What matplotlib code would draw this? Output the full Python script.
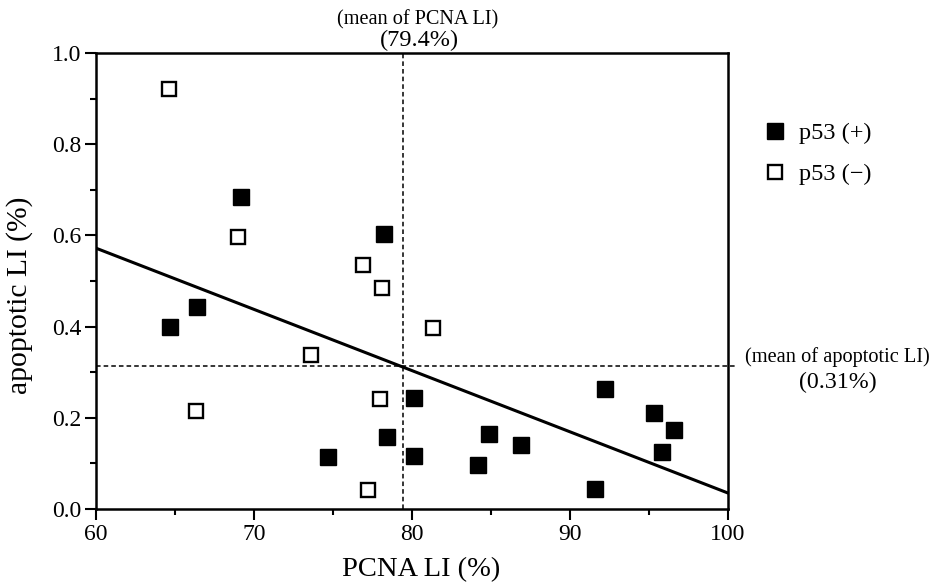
import numpy as np
import matplotlib
matplotlib.use("Agg")
import matplotlib.pyplot as plt
from matplotlib.ticker import MultipleLocator

plt.rcParams['font.family'] = ['Liberation Serif', 'DejaVu Serif']

# =====================================================
# data
# =====================================================
pos_x = [69.2, 78.2, 66.4, 64.7, 80.1, 78.4, 74.7, 80.1, 84.9, 84.2, 86.9, 92.2, 95.3, 96.6, 95.8, 91.6]
pos_y = [0.684, 0.603, 0.443, 0.399, 0.243, 0.158, 0.114, 0.116, 0.164, 0.096, 0.140, 0.263, 0.210, 0.173, 0.125, 0.044]

neg_x = [64.6, 69.0, 76.9, 78.1, 81.3, 73.6, 66.3, 78.0, 77.2]
neg_y = [0.921, 0.596, 0.535, 0.485, 0.397, 0.338, 0.215, 0.241, 0.042]

fit_x = [60, 100]
fit_y = [0.572, 0.035]

mean_pcna = 79.4
mean_apop = 0.314

# =====================================================
# plot
# =====================================================
W, H = 935, 586
fig = plt.figure(figsize=(W / 100, H / 100), dpi=100)
ax = fig.add_axes([96 / W, 1 - 509 / H, 632 / W, 456 / H])

ax.plot(fit_x, fit_y, color="black", lw=2.2, zorder=2)
ax.axvline(mean_pcna, color="black", lw=1.1, ls=(0, (3, 2)), zorder=1)
ax.plot([60, 100.5], [mean_apop, mean_apop], color="black", lw=1.1,
        ls=(0, (3, 2)), clip_on=False, zorder=1)

ax.plot(pos_x, pos_y, "s", color="black", ms=11, ls="none",
        label="p53 (+)", zorder=3)
ax.plot(neg_x, neg_y, "s", mfc="white", mec="black", mew=1.7, ms=9.6,
        ls="none", label="p53 (\u2212)", zorder=3)

ax.set_xlim(60, 100)
ax.set_ylim(0, 1.0)
ax.xaxis.set_major_locator(MultipleLocator(10))
ax.xaxis.set_minor_locator(MultipleLocator(5))
ax.yaxis.set_major_locator(MultipleLocator(0.2))
ax.yaxis.set_minor_locator(MultipleLocator(0.1))
ax.yaxis.set_major_formatter(plt.FormatStrFormatter("%.1f"))

ax.tick_params(axis="both", which="major", length=8, width=1.5,
               labelsize=17, direction="out", pad=2.5)
ax.tick_params(axis="both", which="minor", length=4.5, width=1.5,
               direction="out")
for s in ax.spines.values():
    s.set_linewidth(1.8)

ax.set_xlabel("PCNA LI (%)", fontsize=20.5)
ax.set_ylabel("apoptotic LI (%)", fontsize=21.3)
ax.xaxis.set_label_coords((421 - 96) / 632, (509 - 557) / 456)
ax.yaxis.set_label_coords((33 - 96) / 632, (509 - 295) / 456)

# ===== annotations =====
fig.text(418 / W, 1 - 20 / H, "(mean of PCNA LI)", ha="center", va="center",
         fontsize=14.6)
fig.text(419 / W, 1 - 40 / H, "(79.4%)", ha="center", va="center",
         fontsize=17.5)
fig.text(837 / W, 1 - 357 / H, "(mean of apoptotic LI)", ha="center",
         va="center", fontsize=14.7)
fig.text(838 / W, 1 - 382 / H, "(0.31%)", ha="center", va="center",
         fontsize=17.2)

ax.legend(loc="upper left", bbox_to_anchor=(1.04, 0.87), frameon=False,
          fontsize=17.5, handletextpad=0.5, labelspacing=0.8,
          handlelength=1.0, borderaxespad=0)

fig.savefig("out.png", dpi=100)
plt.close(fig)
